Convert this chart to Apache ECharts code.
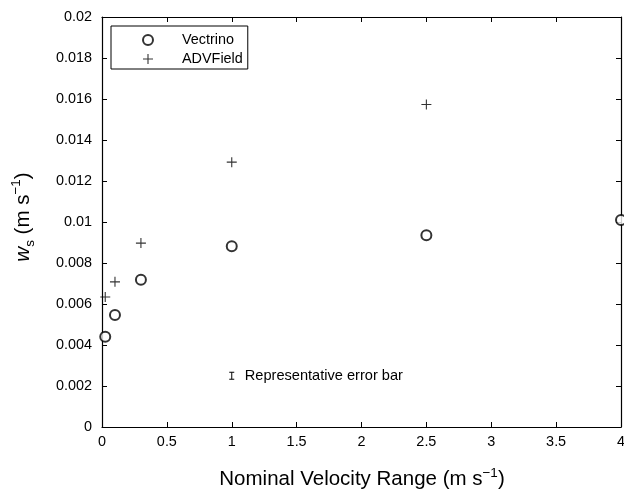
<!DOCTYPE html>
<html>
<head>
<meta charset="utf-8">
<script src="https://cdn.jsdelivr.net/npm/echarts@6/dist/echarts.min.js"></script>
<style>
html,body{margin:0;padding:0;background:#fff;overflow:hidden;}
#chart{width:624px;height:492px;}
</style>
</head>
<body>
<div id="chart"></div>
<script>
// ---- data ----
const vectrinoX = [0.025, 0.1, 0.3, 1, 2.5, 4];
const vectrinoY = [0.0044, 0.00546, 0.00718, 0.00882, 0.00935, 0.0101];
const advX = [0.025, 0.1, 0.3, 1, 2.5];
const advY = [0.00634, 0.00708, 0.00897, 0.01292, 0.01573];
const errorX = [1];
const errorY = [0.0025];
const errorLow = [0.00233];
const errorHigh = [0.00267];
const errorText = 'Representative error bar';
const seriesNames = ['Vectrino', 'ADVField'];
const xTicks = [0, 0.5, 1, 1.5, 2, 2.5, 3, 3.5, 4];
const yTicks = [0, 0.002, 0.004, 0.006, 0.008, 0.01, 0.012, 0.014, 0.016, 0.018, 0.02];

const FONT = "'Liberation Sans', Arial, Helvetica, sans-serif";
const FS = 14.4;
const chart = echarts.init(document.getElementById('chart'), null, {renderer: 'canvas'});

const plusPath = 'path://M4.45,0 H5.55 V4.45 H10 V5.55 H5.55 V10 H4.45 V5.55 H0 V4.45 H4.45 Z';

const axisCommon = {
  axisLine: {show: true, onZero: false, lineStyle: {color: '#000', width: 1.2}},
  axisTick: {show: true, inside: true, length: 5, lineStyle: {color: '#000', width: 1}},
  splitLine: {show: false},
};

const xAxisBase = Object.assign({}, axisCommon, {
  type: 'value', min: xTicks[0], max: xTicks[xTicks.length - 1], interval: xTicks[1] - xTicks[0],
});
const yAxisBase = Object.assign({}, axisCommon, {
  type: 'value', min: yTicks[0], max: yTicks[yTicks.length - 1], interval: yTicks[1] - yTicks[0],
});

const option = {
  backgroundColor: '#fff',
  animation: false,
  textStyle: {fontFamily: FONT},
  grid: {left: 102, right: 3, top: 17, bottom: 65, containLabel: false, outerBoundsMode: 'none'},
  xAxis: [
    Object.assign({}, xAxisBase, {
      position: 'bottom',
      axisLabel: {show: true, color: '#000', fontSize: FS, fontFamily: FONT, margin: 8,
        hideOverlap: false, formatter: v => String(+v.toFixed(2))}
    }),
    Object.assign({}, xAxisBase, {position: 'top', axisLabel: {show: false}})
  ],
  yAxis: [
    Object.assign({}, yAxisBase, {
      position: 'left',
      axisLabel: {show: true, color: '#000', fontSize: FS, fontFamily: FONT, margin: 10,
        hideOverlap: false, formatter: v => String(+v.toFixed(3))}
    }),
    Object.assign({}, yAxisBase, {position: 'right', axisLabel: {show: false}})
  ],
  legend: {
    data: seriesNames,
    orient: 'vertical',
    left: 111, top: 26,
    padding: [7, 5, 3, 31],
    itemGap: 5,
    itemWidth: 20, itemHeight: 10,
    borderColor: '#000', borderWidth: 1, borderRadius: 0,
    backgroundColor: '#fff',
    textStyle: {color: '#000', fontSize: FS, fontFamily: FONT, padding: [0, 0, 0, 19]},
    selectedMode: false
  },
  series: [
    {
      name: seriesNames[0], type: 'scatter', xAxisIndex: 0, yAxisIndex: 0,
      symbol: 'emptyCircle', symbolSize: 10, clip: false,
      itemStyle: {color: '#000', borderColor: '#000', borderWidth: 1},
      data: vectrinoX.map((x, i) => [x, vectrinoY[i]]),
      z: 3
    },
    {
      name: seriesNames[1], type: 'scatter', xAxisIndex: 0, yAxisIndex: 0,
      symbol: plusPath, symbolSize: 10, clip: false,
      itemStyle: {color: '#000'},
      data: advX.map((x, i) => [x, advY[i]]),
      z: 3
    },
    {
      name: 'error', type: 'custom', xAxisIndex: 0, yAxisIndex: 0,
      data: errorX.map((x, i) => [x, errorY[i], errorLow[i], errorHigh[i]]),
      renderItem: function (params, api) {
        const c = api.coord([api.value(0), api.value(1)]);
        const lo = api.coord([api.value(0), api.value(2)]);
        const hi = api.coord([api.value(0), api.value(3)]);
        const cap = 2.5;
        const st = {stroke: '#000', lineWidth: 1};
        return {
          type: 'group',
          children: [
            {type: 'line', shape: {x1: c[0], y1: lo[1], x2: c[0], y2: hi[1]}, style: st},
            {type: 'line', shape: {x1: c[0] - cap, y1: lo[1], x2: c[0] + cap, y2: lo[1]}, style: st},
            {type: 'line', shape: {x1: c[0] - cap, y1: hi[1], x2: c[0] + cap, y2: hi[1]}, style: st},
            {type: 'text', x: c[0] + 13, y: c[1], style: {text: errorText, fill: '#000',
              font: '14.6px ' + FONT, verticalAlign: 'middle', align: 'left'}}
          ]
        };
      },
      z: 3
    }
  ],
  graphic: [
    {
      type: 'text', x: 362, y: 479,
      style: {
        text: 'Nominal Velocity Range (m s{sup|−1})',
        fill: '#000', font: '20.5px ' + FONT, align: 'center', verticalAlign: 'middle',
        lineHeight: 26,
        rich: {
          sup: {fontSize: 13.5, fontFamily: FONT, verticalAlign: 'top', lineHeight: 13, fill: '#000'}
        }
      }
    },
    {
      type: 'text', x: 23, y: 217, rotation: Math.PI / 2,
      style: {
        text: '{it|w}{sub|s} (m s{sup|−1})',
        fill: '#000', font: '20.5px ' + FONT, align: 'center', verticalAlign: 'middle',
        lineHeight: 28,
        rich: {
          it: {fontSize: 20.5, fontStyle: 'italic', fontFamily: FONT, fill: '#000', lineHeight: 26},
          sub: {fontSize: 13.5, fontFamily: FONT, verticalAlign: 'bottom', lineHeight: 13, fill: '#000'},
          sup: {fontSize: 13.5, fontFamily: FONT, verticalAlign: 'top', lineHeight: 13, fill: '#000'}
        }
      }
    }
  ]
};
chart.setOption(option);
</script>
</body>
</html>
